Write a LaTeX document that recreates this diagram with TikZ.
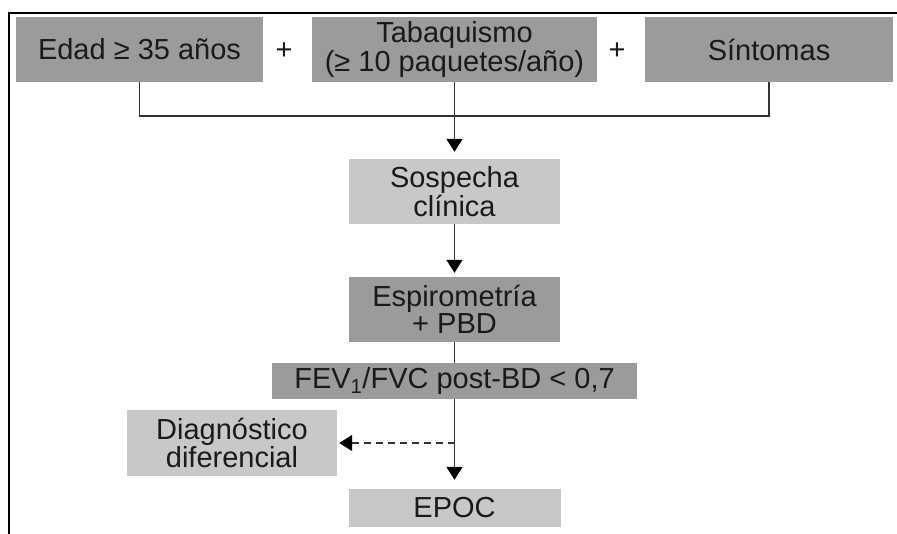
\documentclass[tikz,border=0pt]{standalone}
\usepackage{fontspec}
\setmainfont{Liberation Sans}
\usetikzlibrary{arrows.meta}
\definecolor{darkbox}{HTML}{9B9B9B}
\definecolor{lightbox}{HTML}{C8C8C8}
\definecolor{linecol}{HTML}{333333}
\definecolor{txt}{HTML}{1A1A1A}
\begin{document}
\begin{tikzpicture}[x=1pt,y=-1pt,
  box/.style={inner sep=0pt, align=center, text=txt,
    font=\fontsize{29}{25}\selectfont},
  dbox/.style={box, fill=darkbox},
  lbox/.style={box, fill=lightbox},
  conn/.style={draw=linecol, line width=1.4pt},
  tip/.style={-{Triangle[width=16pt,length=13pt,fill=black,color=black]}},
  arr/.style={conn, tip},
  plus/.style={inner sep=0pt, text=txt, font=\fontsize{29}{25}\selectfont}
]
\useasboundingbox (0,0) rectangle (897,534);
% frame
\draw[line width=2.6pt, black] (9,534) -- (9,13) -- (897,13);
% top boxes
\node[dbox, minimum width=247pt, minimum height=65pt] (edad) at (139.5,49.5) {Edad ≥ 35 años};
\node[dbox, minimum width=285pt, minimum height=65pt] (taba) at (454.5,49.5) {Tabaquismo\\(≥ 10 paquetes/año)};
\node[dbox, minimum width=248pt, minimum height=65pt] (sint) at (769,49.5) {Síntomas};
\node[plus] (p1) at (284,51) {+};
\node[plus] (p2) at (617,51) {+};
% middle
\node[lbox, minimum width=211pt, minimum height=65pt] (sosp) at (454.5,191.5) {Sospecha\\clínica};
\node[dbox, minimum width=211pt, minimum height=65pt] (espi) at (454.5,309.5) {Espirometría\\+ PBD};
\node[dbox, minimum width=365pt, minimum height=36pt] (fev) at (454.5,381) {FEV\textsubscript{1}/FVC post-BD < 0,7};
\node[lbox, minimum width=210pt, minimum height=66pt] (diag) at (232,443) {Diagnóstico\\diferencial};
\node[lbox, minimum width=212pt, minimum height=38pt] (epoc) at (454.5,508) {EPOC};
% connectors
\coordinate (j) at (edad.south |- 0,116);
\draw[conn] (edad.south) -- (j) -- (j -| sint.south) -- (sint.south);
\draw[arr, shorten >=7pt] (taba.south) -- (sosp.north);
\draw[arr, shorten >=4pt] (sosp.south) -- (espi.north);
\draw[conn] (espi.south) -- (fev.north);
\draw[arr, shorten >=9pt] (fev.south) -- (epoc.north);
\coordinate (br) at (fev.south |- diag.east);
\draw[conn, dash pattern=on 7pt off 5pt, line width=1.2pt, tip, shorten >=2pt] (br) -- (diag.east);
\end{tikzpicture}
\end{document}
